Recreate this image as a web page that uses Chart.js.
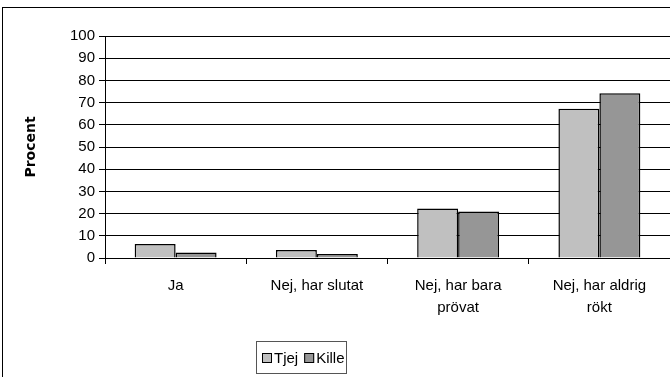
<!DOCTYPE html>
<html>
<head>
<meta charset="utf-8">
<script src="https://cdn.jsdelivr.net/npm/chart.js@4"></script>
<style>
  html, body { margin: 0; padding: 0; background: #fff; }
</style>
</head>
<body>
<canvas id="smokeChart" width="670" height="377"></canvas>
<script>
const categories = ['Ja', 'Nej, har slutat', ['Nej, har bara', 'prövat'], ['Nej, har aldrig', 'rökt']];
const tjej = [6.3, 3.6, 22.3, 67.2];
const kille = [2.5, 1.8, 21.0, 74.2];
const yStep = 10;

const FONT = "'Liberation Sans', Arial, sans-serif";

// outer frame and the boxed legend under the axis
const framePlugin = {
  id: 'frame',
  afterDraw(chart) {
    const c = chart.ctx;
    c.save();
    c.strokeStyle = '#000';
    c.lineWidth = 1;
    c.strokeRect(2.5, 7.5, 800, 500);

    c.strokeStyle = '#555';
    c.strokeRect(256.5, 341.5, 90, 32);

    c.font = '15px ' + FONT;
    c.textBaseline = 'middle';
    let x = 262;
    const y = 358;
    chart.data.datasets.forEach(ds => {
      c.fillStyle = ds.backgroundColor;
      c.fillRect(x, y - 5, 10, 10);
      c.strokeStyle = '#000';
      c.strokeRect(x + 0.5, y - 4.5, 9, 9);
      c.fillStyle = '#000';
      c.fillText(ds.label, x + 12, y + 1);
      x += 12 + c.measureText(ds.label).width + 6;
    });
    c.restore();
  }
};

new Chart(document.getElementById('smokeChart'), {
  type: 'bar',
  data: {
    labels: categories,
    datasets: [{
      label: 'Tjej',
      data: tjej,
      backgroundColor: '#c0c0c0',
      borderColor: '#000',
      borderWidth: 1.5
    }, {
      label: 'Kille',
      data: kille,
      backgroundColor: '#969696',
      borderColor: '#000',
      borderWidth: 1.5
    }]
  },
  options: {
    responsive: false,
    animation: false,
    devicePixelRatio: 1,
    layout: { padding: { top: 36, right: 0, left: 0, bottom: 0 } },
    datasets: { bar: { categoryPercentage: 0.58, barPercentage: 1 } },
    scales: {
      x: {
        afterFit: axis => { axis.height = 119; },
        grid: { drawOnChartArea: false, color: '#000', tickLength: 6, offset: true },
        border: { color: '#000', width: 1 },
        ticks: { color: '#000', font: { family: FONT, size: 15, lineHeight: 1.45 }, padding: 11, maxRotation: 0, autoSkip: false }
      },
      y: {
        min: 0, max: 100,
        afterFit: axis => { axis.width = 105; },
        grid: { color: '#000', tickLength: 6 },
        border: { color: '#000', width: 1 },
        ticks: { color: '#000', font: { family: FONT, size: 15 }, padding: 4, stepSize: yStep, autoSkip: false },
        title: { display: true, text: 'Procent', color: '#000', font: { family: "'DejaVu Sans', sans-serif", size: 14, weight: 'bold' }, padding: { top: 23, bottom: 0 } }
      }
    },
    plugins: {
      legend: { display: false },
      tooltip: { enabled: false }
    }
  },
  plugins: [framePlugin]
});
</script>
</body>
</html>
